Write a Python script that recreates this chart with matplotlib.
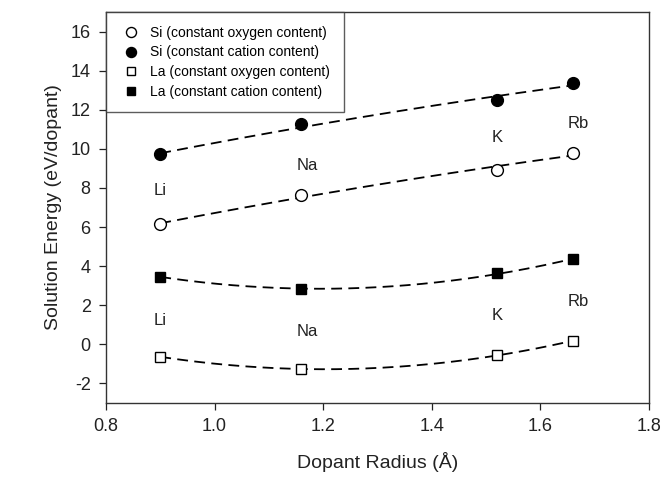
import numpy as np
import matplotlib
matplotlib.use("Agg")
import matplotlib.pyplot as plt

plt.rcParams['font.family'] = ['Liberation Sans', 'DejaVu Sans']
plt.rcParams['axes.unicode_minus'] = False

# Data
dopants = ['Li', 'Na', 'K', 'Rb']
radius = [0.90, 1.16, 1.52, 1.66]
si_oxygen = [6.14, 7.66, 8.90, 9.79]
si_cation = [9.72, 11.25, 12.48, 13.38]
la_oxygen = [-0.63, -1.28, -0.54, 0.17]
la_cation = [3.46, 2.83, 3.63, 4.36]

# label heights for the dopant names
upper_label_y = [7.88, 9.16, 10.57, 11.29]
lower_label_y = [1.23, 0.65, 1.46, 2.17]

series = [
    ('Si (constant oxygen content)', si_oxygen, 'o', 'white'),
    ('Si (constant cation content)', si_cation, 'o', 'black'),
    ('La (constant oxygen content)', la_oxygen, 's', 'white'),
    ('La (constant cation content)', la_cation, 's', 'black'),
]


def main():
    fig = plt.figure(figsize=(6.64, 4.82), dpi=100)
    ax = fig.add_axes([0.1596, 0.1639, 0.8178, 0.8111])

    x = np.array(radius)
    xs = np.linspace(x.min(), x.max(), 200)
    for label, y, marker, face in series:
        # quadratic fit drawn as dashed curve
        coef = np.polyfit(x, y, 2)
        ax.plot(xs, np.polyval(coef, xs), color='black', lw=1.3,
                dashes=(6, 3.5), zorder=2)
        ax.plot(x, y, linestyle='none', marker=marker, ms=8.5 if marker == 'o' else 7.5,
                mfc=face, mec='black', mew=1.0, label=label, zorder=3)

    for name, xv, yu, yl in zip(dopants, radius, upper_label_y, lower_label_y):
        dx = 0.01 if name in ('Na', 'Rb') else 0.0
        ax.text(xv + dx, yu, name, ha='center', va='center', fontsize=12, color='#222222')
        ax.text(xv + dx, yl, name, ha='center', va='center', fontsize=12, color='#222222')

    ax.set_xlim(0.8, 1.8)
    ax.set_ylim(-3, 17)
    ax.set_xticks(np.arange(0.8, 1.81, 0.2))
    ax.set_xticklabels(['0.8', '1.0', '1.2', '1.4', '1.6', '1.8'])
    ax.set_yticks(np.arange(-2, 17, 2))
    ax.tick_params(axis='both', direction='out', length=5, width=0.9,
                   labelsize=13, colors='#222222', pad=6)
    ax.tick_params(top=False, right=False)
    for s in ax.spines.values():
        s.set_linewidth(1.0)
        s.set_color('#333333')

    ax.set_xlabel('Dopant Radius (Å)', fontsize=14, color='#222222', labelpad=12)
    ax.set_ylabel('Solution Energy (eV/dopant)', fontsize=14, color='#222222', labelpad=6)

    leg = ax.legend(loc='upper left', bbox_to_anchor=(0.0, 1.0), fontsize=10,
                    frameon=True, fancybox=False, edgecolor='#333333',
                    borderaxespad=0.0, handletextpad=0.6, labelspacing=0.4,
                    markerscale=0.85, borderpad=1.0, handlelength=1.6)
    leg.get_frame().set_linewidth(1.0)

    fig.savefig('out.png', dpi=100)


if __name__ == "__main__":
    main()
